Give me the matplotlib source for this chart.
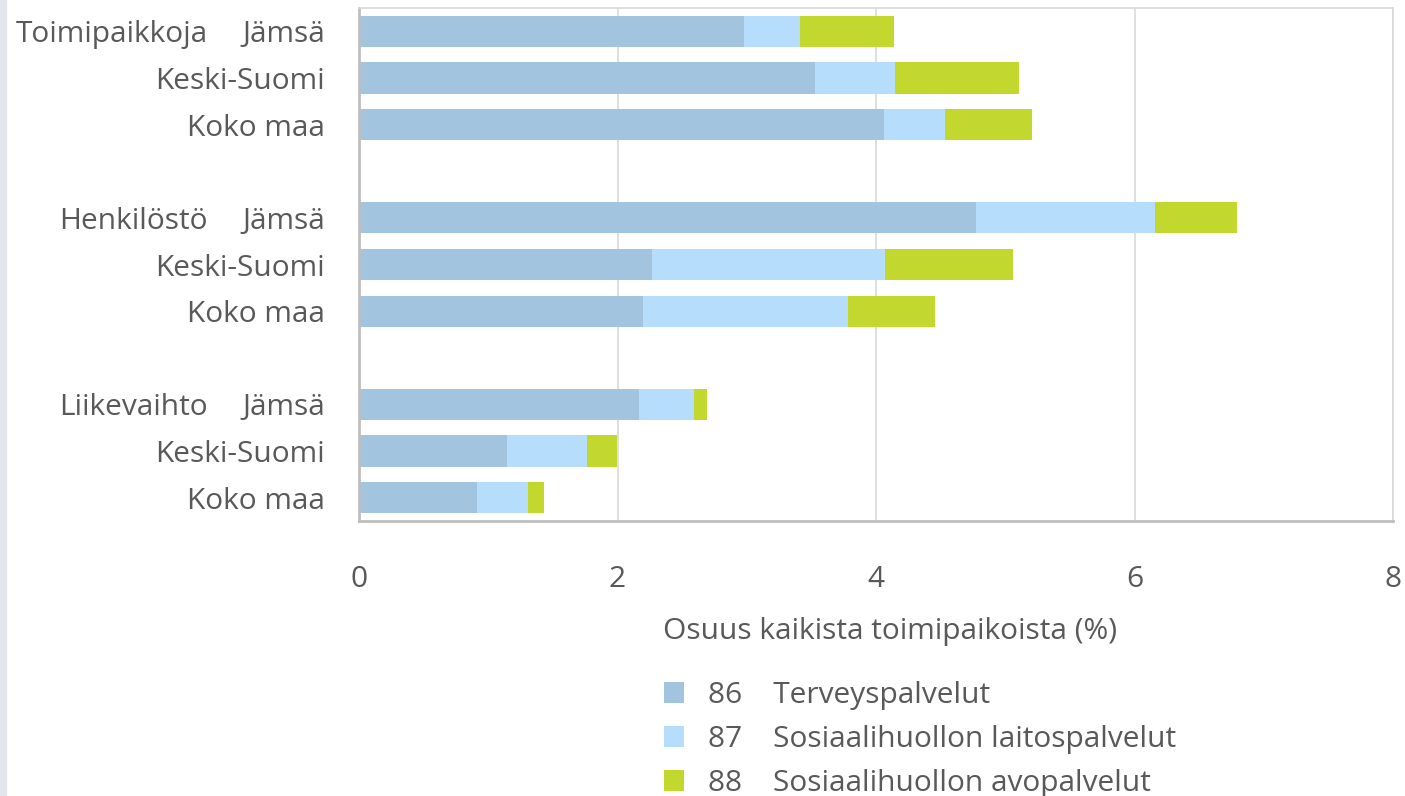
import matplotlib
matplotlib.use("Agg")
import matplotlib.pyplot as plt
import matplotlib.patches as mpatches
from matplotlib.transforms import blended_transform_factory
import numpy as np

plt.rcParams['font.family'] = ['Open Sans', 'DejaVu Sans']

groups = ["Toimipaikkoja", "Henkilöstö", "Liikevaihto"]
regions = ["Jämsä", "Keski-Suomi", "Koko maa"]
series_names = ["86    Terveyspalvelut", "87    Sosiaalihuollon laitospalvelut", "88    Sosiaalihuollon avopalvelut"]
colors = ["#A3C4DF", "#B6DDFC", "#C2D82E"]
# segment widths per row (group x region order)
s86 = [2.98, 3.53, 4.06, 4.77, 2.27, 2.20, 2.17, 1.145, 0.91]
s87 = [0.43, 0.62, 0.47, 1.39, 1.80, 1.58, 0.42, 0.62, 0.40]
s88 = [0.73, 0.96, 0.68, 0.63, 0.99, 0.68, 0.10, 0.23, 0.12]
xticks = [0, 2, 4, 6, 8]
xlabel = "Osuus kaikista toimipaikoista (%)"

text_color = "#595959"
fs = 21.5
fig = plt.figure(figsize=(14.05, 7.96), dpi=100)
fig.patches.append(mpatches.Rectangle((0, 0), 6/1405, 1, transform=fig.transFigure,
                                      color="#E3E7EB", zorder=0))
ax = fig.add_axes([359/1405, 1-521/796, (1393-359)/1405, (521-8)/796])

# y positions: 3 bars per group with one empty slot between groups
ypos = []
for g in range(3):
    for r in range(3):
        ypos.append(g*4 + r)
ypos = np.array(ypos, dtype=float)

left = np.zeros(len(s86))
for vals, c, name in zip([s86, s87, s88], colors, series_names):
    ax.barh(ypos, vals, left=left, height=0.67, color=c, label=name, zorder=2)
    left = left + np.array(vals)

ax.set_xlim(0, 8)
ax.set_ylim(10.5, -0.5)
ax.set_xticks(xticks)
ax.set_xticklabels([str(t) for t in xticks])
ax.set_yticks(ypos)
ax.set_yticklabels(regions*3)
ax.tick_params(axis='y', length=0, pad=24.5, labelsize=fs, labelcolor=text_color)
ax.tick_params(axis='x', length=0, pad=32, labelsize=fs, labelcolor=text_color)
ax.grid(axis='x', color="#D9D9D9", linewidth=1.2, zorder=0)
ax.set_axisbelow(True)
for s in ['top', 'right']:
    ax.spines[s].set_color("#D9D9D9")
    ax.spines[s].set_linewidth(1.2)
for s in ['bottom', 'left']:
    ax.spines[s].set_color("#BFBFBF")
    ax.spines[s].set_linewidth(2)

tr = blended_transform_factory(fig.transFigure, ax.transData)
for g, name in enumerate(groups):
    ax.text(208/1405, g*4, name, transform=tr, ha='right', va='center_baseline',
            fontsize=fs, color=text_color)

fig.text(890/1405, 1-632/796, xlabel, ha='center', va='center', fontsize=fs, color=text_color)

leg = fig.legend(loc='upper left', bbox_to_anchor=(664/1405, 1-681/796), frameon=False,
                 fontsize=fs, labelcolor=text_color, handlelength=0.67, handleheight=0.67,
                 handletextpad=0.8, labelspacing=0.5, borderpad=0, borderaxespad=0)

fig.savefig("out.png", dpi=100)
